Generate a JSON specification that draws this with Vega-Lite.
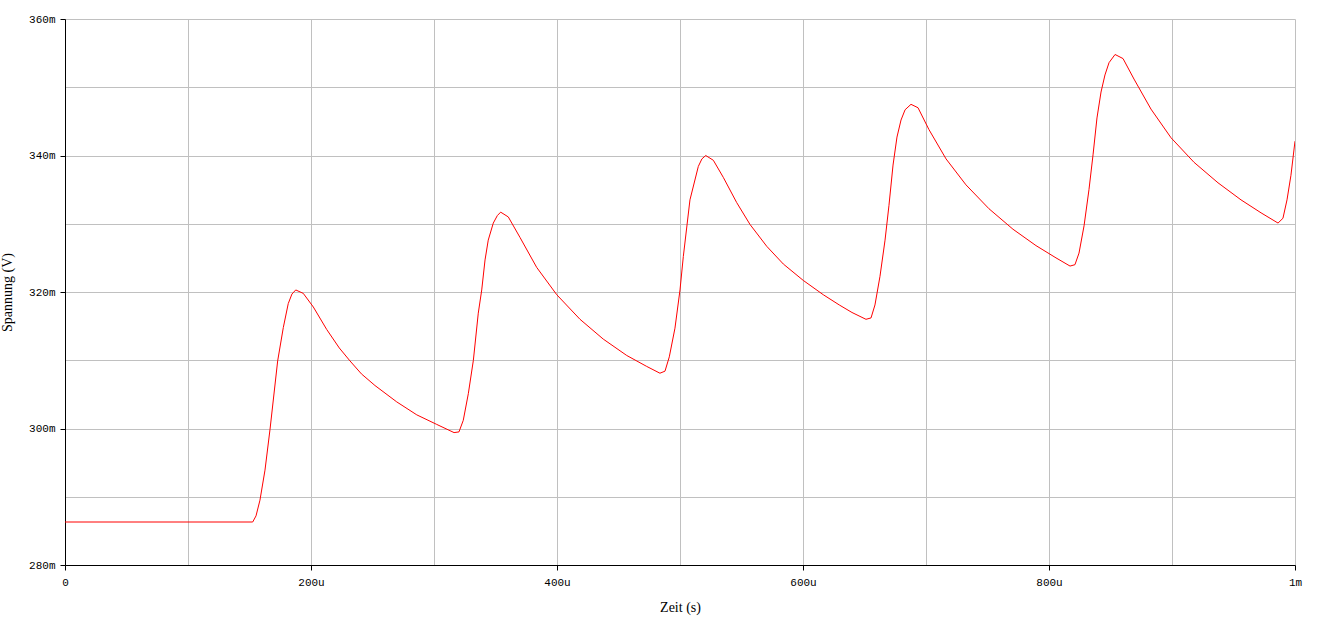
{
  "$schema": "https://vega.github.io/schema/vega-lite/v6.json",
  "autosize": "none",
  "width": 1230,
  "height": 546,
  "padding": {"left": 65, "top": 19, "right": 37, "bottom": 52},
  "background": "white",
  "config": {"view": {"stroke": null}},
  "data": {"values": [
    {"t": 0, "v": 286.3}, {"t": 152.6, "v": 286.3}, {"t": 155.3, "v": 287.2}, {"t": 158.5, "v": 289.5},
    {"t": 162.6, "v": 293.9}, {"t": 166.7, "v": 299.9}, {"t": 172.9, "v": 309.9}, {"t": 177.5, "v": 314.8},
    {"t": 181.5, "v": 318.3}, {"t": 184.5, "v": 319.7}, {"t": 187.6, "v": 320.3}, {"t": 193.7, "v": 319.8}, {"t": 201.9, "v": 317.8},
    {"t": 212.8, "v": 314.5}, {"t": 223.0, "v": 311.8}, {"t": 231.7, "v": 309.9}, {"t": 241.0, "v": 308.0}, {"t": 252.0, "v": 306.3},
    {"t": 269.7, "v": 303.9}, {"t": 286.0, "v": 302.0}, {"t": 302.2, "v": 300.6}, {"t": 316.3, "v": 299.4},
    {"t": 320.3, "v": 299.5}, {"t": 323.8, "v": 301.2}, {"t": 327.9, "v": 305.1}, {"t": 332.0, "v": 310.0},
    {"t": 336.0, "v": 316.9}, {"t": 338.8, "v": 320.3}, {"t": 341.5, "v": 324.7}, {"t": 344.1, "v": 327.6},
    {"t": 348.2, "v": 330.1}, {"t": 351.5, "v": 331.2}, {"t": 354.2, "v": 331.7}, {"t": 360.4, "v": 331.0}, {"t": 369.9, "v": 328.0},
    {"t": 383.5, "v": 323.6}, {"t": 399.8, "v": 319.6}, {"t": 418.7, "v": 316.0}, {"t": 437.6, "v": 313.1},
    {"t": 456.7, "v": 310.7}, {"t": 472.9, "v": 309.1}, {"t": 483.7, "v": 308.1}, {"t": 487.8, "v": 308.4},
    {"t": 491.3, "v": 310.5}, {"t": 495.9, "v": 314.7}, {"t": 500.0, "v": 320.3}, {"t": 502.7, "v": 325.2},
    {"t": 508.1, "v": 333.5}, {"t": 514.9, "v": 338.4}, {"t": 517.8, "v": 339.5}, {"t": 520.9, "v": 340.0}, {"t": 527.1, "v": 339.3},
    {"t": 535.2, "v": 336.8}, {"t": 546.1, "v": 333.1}, {"t": 556.9, "v": 329.9}, {"t": 570.5, "v": 326.7},
    {"t": 584.0, "v": 324.1}, {"t": 600.2, "v": 321.7}, {"t": 616.5, "v": 319.6}, {"t": 629.5, "v": 318.1},
    {"t": 639.8, "v": 317.0}, {"t": 651.2, "v": 316.0}, {"t": 655.3, "v": 316.2}, {"t": 658.5, "v": 318.1},
    {"t": 662.6, "v": 322.3}, {"t": 666.7, "v": 327.6}, {"t": 669.9, "v": 332.7}, {"t": 673.2, "v": 338.6},
    {"t": 676.4, "v": 342.7}, {"t": 679.7, "v": 345.2}, {"t": 683.0, "v": 346.7}, {"t": 687.8, "v": 347.5},
    {"t": 693.5, "v": 347.0}, {"t": 702.4, "v": 343.8}, {"t": 716.3, "v": 339.5}, {"t": 732.5, "v": 335.7},
    {"t": 751.2, "v": 332.2}, {"t": 770.7, "v": 329.2}, {"t": 789.4, "v": 326.8}, {"t": 805.7, "v": 325.0},
    {"t": 817.1, "v": 323.8}, {"t": 821.1, "v": 324.0}, {"t": 824.4, "v": 325.7}, {"t": 828.5, "v": 329.7},
    {"t": 832.5, "v": 335.0}, {"t": 835.8, "v": 340.1}, {"t": 839.0, "v": 345.5}, {"t": 842.3, "v": 349.3},
    {"t": 845.5, "v": 351.8}, {"t": 848.8, "v": 353.6}, {"t": 853.7, "v": 354.8}, {"t": 860.2, "v": 354.2},
    {"t": 869.1, "v": 351.2}, {"t": 882.9, "v": 346.8}, {"t": 899.2, "v": 342.6}, {"t": 917.9, "v": 339.0},
    {"t": 937.4, "v": 336.0}, {"t": 956.1, "v": 333.5}, {"t": 972.4, "v": 331.6}, {"t": 986.2, "v": 330.1},
    {"t": 990.2, "v": 330.8}, {"t": 993.5, "v": 333.5}, {"t": 996.7, "v": 337.1}, {"t": 1000, "v": 342.1}
  ]},
  "mark": {"type": "line", "color": "#ff0000", "strokeWidth": 1, "clip": true},
  "encoding": {
    "x": {
      "field": "t", "type": "quantitative",
      "scale": {"domain": [0, 1000], "nice": false, "zero": false},
      "axis": {
        "values": [0, 100, 200, 300, 400, 500, 600, 700, 800, 900, 1000],
        "labelExpr": "datum.value == 0 ? '0' : datum.value == 1000 ? '1m' : (datum.value % 200 == 0 ? datum.value + 'u' : '')",
        "labelFont": "Liberation Mono", "labelFontSize": 11, "labelColor": "#000000",
        "labelPadding": 6, "labelFlush": false, "labelOverlap": false,
        "tickSize": 5, "tickColor": "#000000",
        "tickOpacity": {"condition": {"test": "datum.value % 200 != 0 && datum.value != 1000", "value": 0}, "value": 1},
        "domainColor": "#000000", "domainWidth": 1,
        "grid": true, "gridColor": "#c0c0c0", "gridWidth": 1, "gridOpacity": 1,
        "title": "Zeit (s)", "titleFont": "Liberation Serif", "titleFontSize": 14, "titleFontWeight": "normal",
        "titleColor": "#000000", "titlePadding": 13
      }
    },
    "y": {
      "field": "v", "type": "quantitative",
      "scale": {"domain": [280, 360], "nice": false, "zero": false},
      "axis": {
        "values": [280, 290, 300, 310, 320, 330, 340, 350, 360],
        "labelExpr": "datum.value % 20 == 0 ? datum.value + 'm' : ''",
        "labelFont": "Liberation Mono", "labelFontSize": 11, "labelColor": "#000000",
        "labelPadding": 5, "labelFlush": false, "labelOverlap": false,
        "tickSize": 5, "tickColor": "#000000",
        "tickOpacity": {"condition": {"test": "datum.value % 20 != 0", "value": 0}, "value": 1},
        "domainColor": "#000000", "domainWidth": 1,
        "grid": true, "gridColor": "#c0c0c0", "gridWidth": 1, "gridOpacity": 1,
        "title": "Spannung (V)", "titleFont": "Liberation Serif", "titleFontSize": 14, "titleFontWeight": "normal",
        "titleColor": "#000000", "titlePadding": 14
      }
    }
  }
}
